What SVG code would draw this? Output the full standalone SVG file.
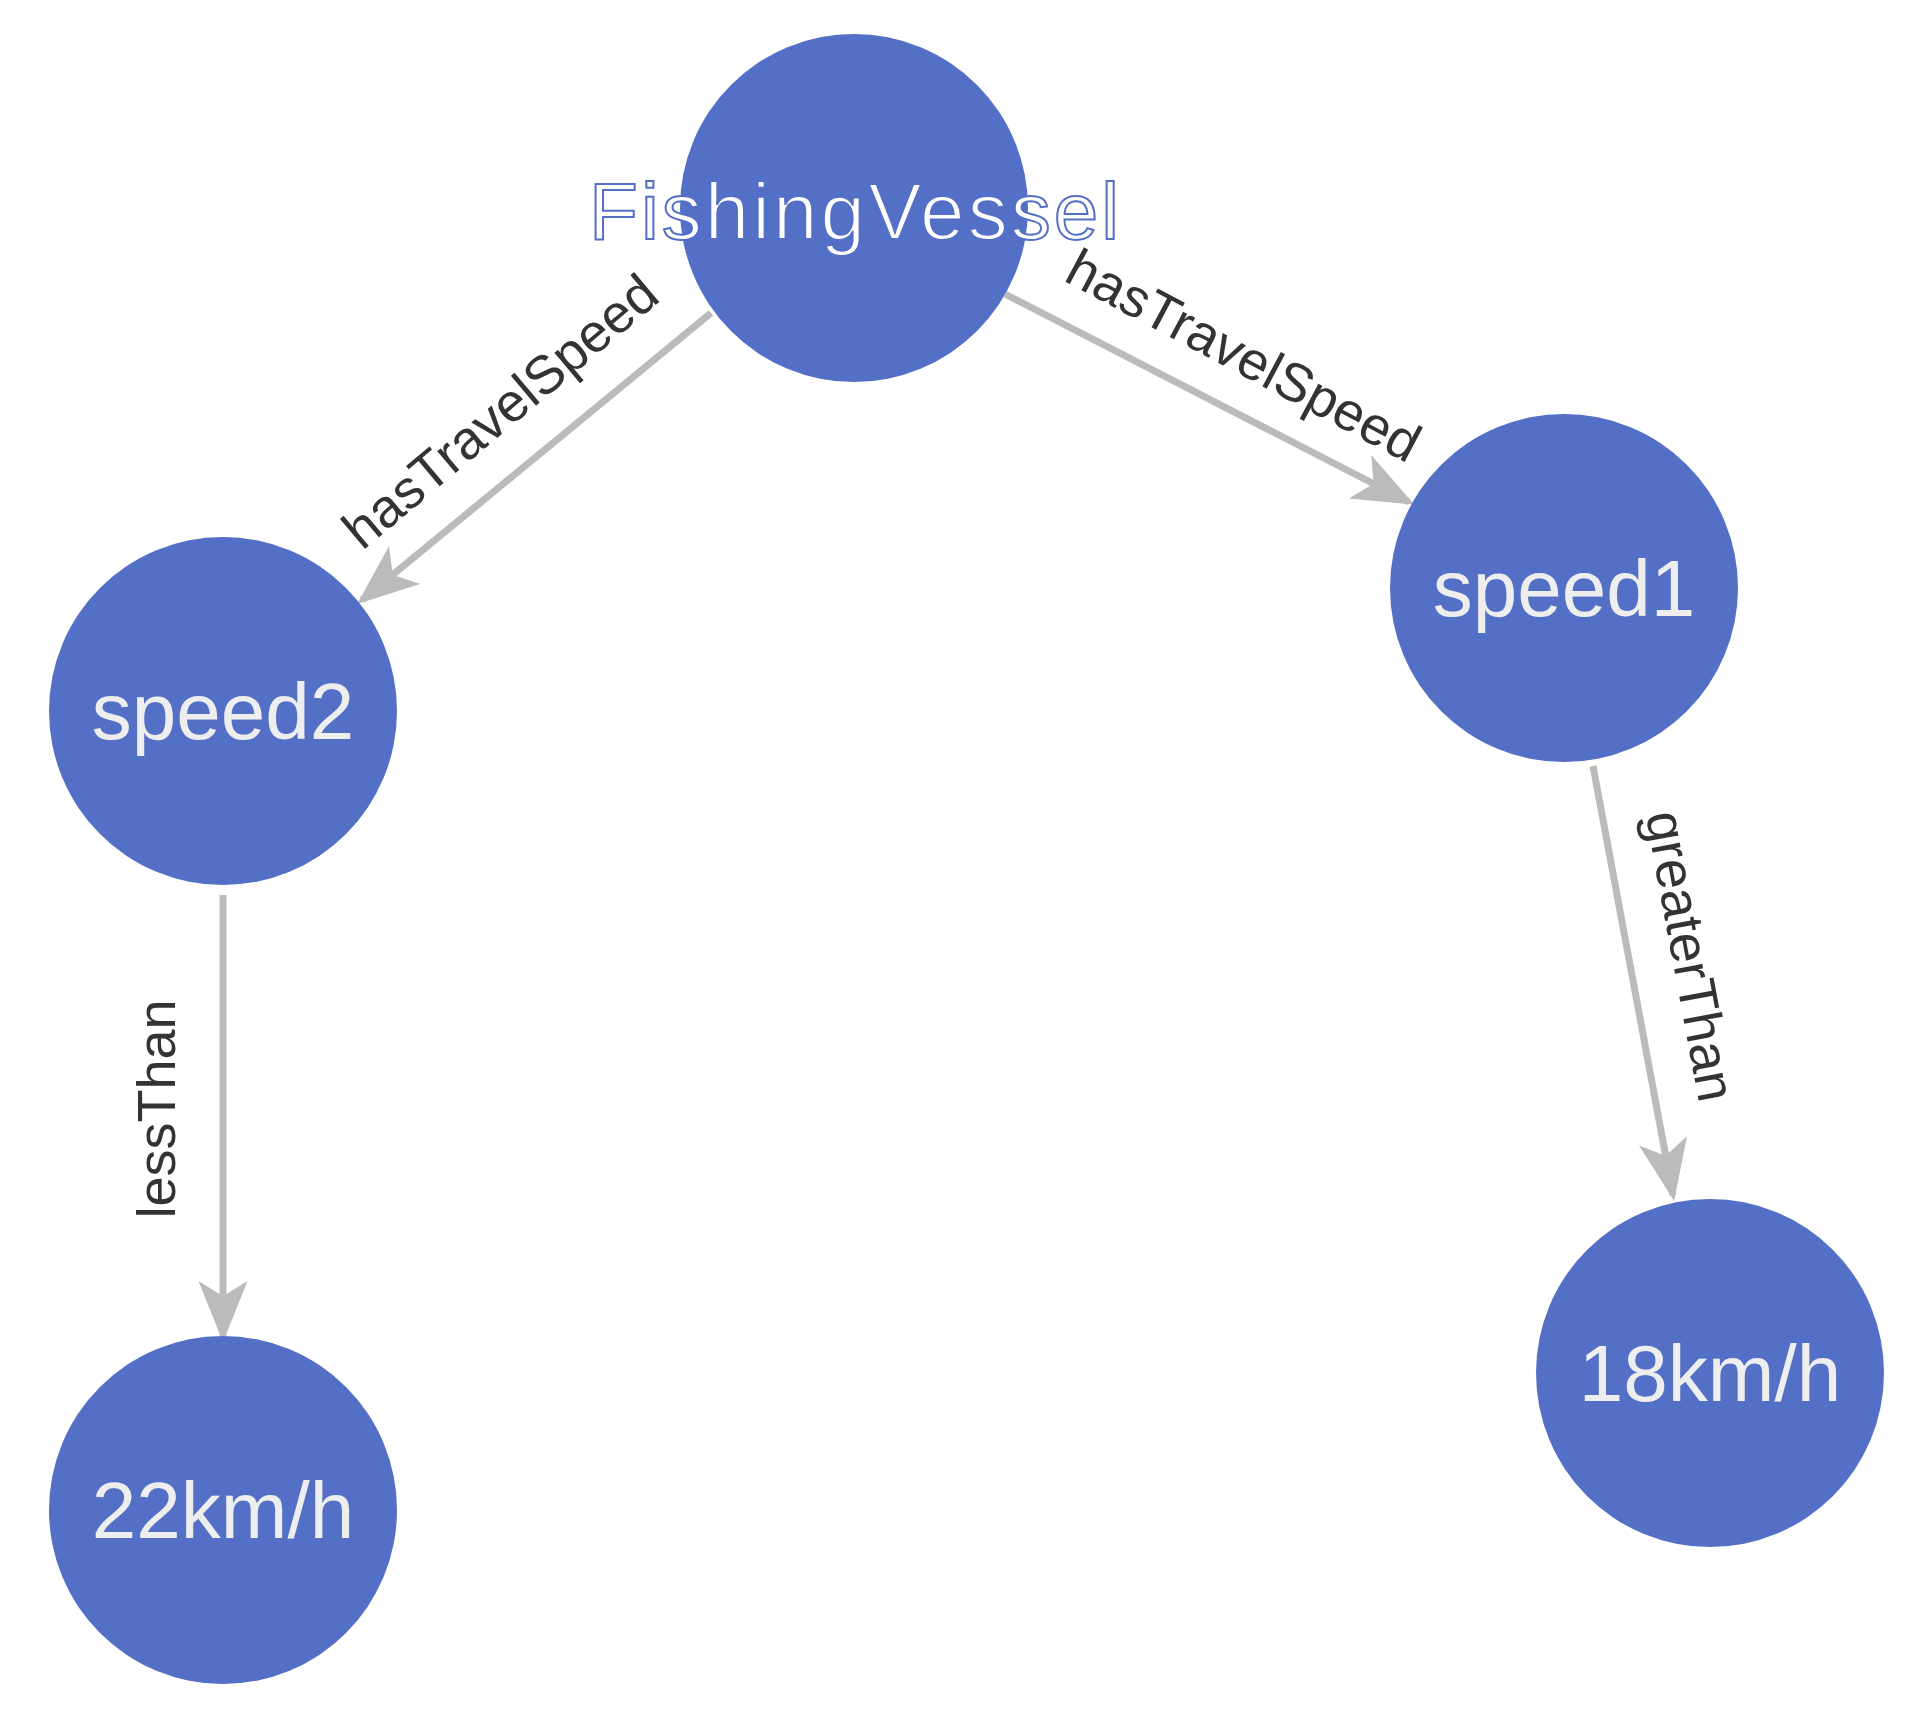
<svg xmlns="http://www.w3.org/2000/svg" width="1912" height="1711" viewBox="0 0 1912 1711">
<style>
.n{fill:#5470c6}
.t{font-family:"Liberation Sans",Arial,sans-serif;font-size:80px;fill:#eeeeee;text-anchor:middle;dominant-baseline:central}
.e{stroke:#bbbbbb;stroke-width:7;fill:none}
.l{font-family:"Liberation Sans",Arial,sans-serif;font-size:54px;fill:#333;text-anchor:middle;dominant-baseline:central}
</style>
<defs>
<marker id="a" viewBox="0 0 20 16" refX="18" refY="8" markerWidth="9" markerHeight="7" markerUnits="strokeWidth" orient="auto">
<path d="M0,0 L20,8 L0,16 L5,8 Z" fill="#bbbbbb"/>
</marker>
</defs>
<rect width="1912" height="1711" fill="#fff"/>
<g id="edges">
<line class="e" x1="711" y1="313" x2="362" y2="600" marker-end="url(#a)"/>
<line class="e" x1="1005" y1="294" x2="1409" y2="502" marker-end="url(#a)"/>
<line class="e" x1="223" y1="895" x2="223" y2="1336" marker-end="url(#a)"/>
<line class="e" x1="1593" y1="766" x2="1673" y2="1195" marker-end="url(#a)"/>
</g>
<g id="n-speed2"><circle class="n" cx="223" cy="711" r="174"/><text class="t" x="223" y="711">speed2</text></g>
<g id="n-speed1"><circle class="n" cx="1564" cy="588" r="174"/><text class="t" x="1564" y="588">speed1</text></g>
<g id="n-22"><circle class="n" cx="223" cy="1510" r="174"/><text class="t" x="223" y="1510">22km/h</text></g>
<g id="n-18"><circle class="n" cx="1710" cy="1373" r="174"/><text class="t" x="1710" y="1373">18km/h</text></g>
<g id="n-fv"><circle class="n" cx="854" cy="208" r="174"/><text class="t" x="854" y="211" textLength="530" style="fill:#fff;stroke:#5470c6;stroke-width:2">FishingVessel</text></g>
<g id="labels">
<text class="l" transform="translate(500,411) rotate(-40)">hasTravelSpeed</text>
<text class="l" transform="translate(1244,355) rotate(28)">hasTravelSpeed</text>
<text class="l" transform="translate(156,1109) rotate(-90)">lessThan</text>
<text class="l" transform="translate(1691,956) rotate(79.5)">greaterThan</text>
</g>
</svg>
